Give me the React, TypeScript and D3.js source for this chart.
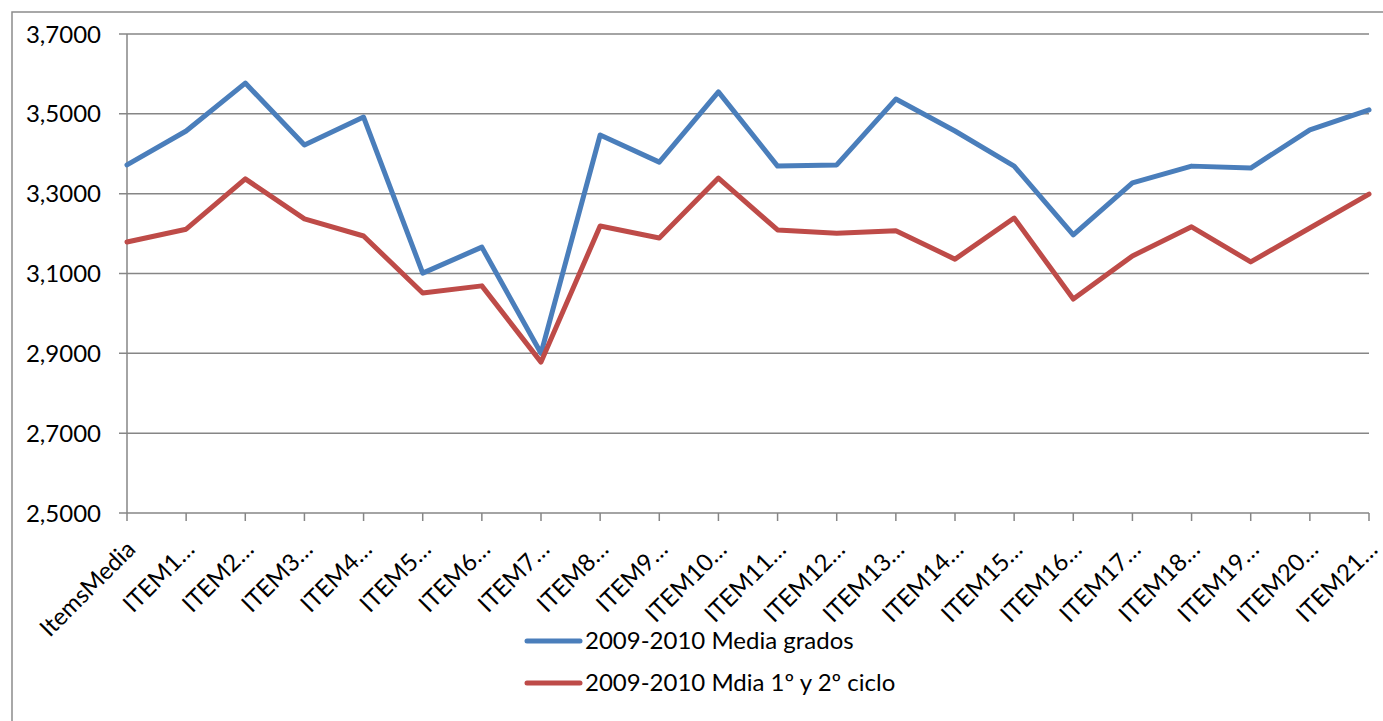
import React, { useEffect, useRef } from "react";
import * as d3 from "d3";

const categories = [
  "ItemsMedia", "ITEM1…", "ITEM2…", "ITEM3…", "ITEM4…", "ITEM5…", "ITEM6…", "ITEM7…",
  "ITEM8…", "ITEM9…", "ITEM10…", "ITEM11…", "ITEM12…", "ITEM13…", "ITEM14…", "ITEM15…",
  "ITEM16…", "ITEM17…", "ITEM18…", "ITEM19…", "ITEM20…", "ITEM21…",
];

const mediaGrados = [
  3.372, 3.457, 3.577, 3.422, 3.492, 3.101, 3.166, 2.9, 3.447, 3.379, 3.555,
  3.369, 3.372, 3.537, 3.457, 3.369, 3.197, 3.327, 3.369, 3.364, 3.46, 3.51,
];

const mediaCiclo = [
  3.179, 3.211, 3.337, 3.237, 3.194, 3.051, 3.069, 2.878, 3.219, 3.189, 3.339,
  3.209, 3.201, 3.207, 3.136, 3.239, 3.036, 3.144, 3.217, 3.129, 3.214, 3.299,
];

const yTicks = [2.5, 2.7, 2.9, 3.1, 3.3, 3.5, 3.7];

const series = [
  { name: "2009-2010 Media grados", values: mediaGrados, color: "#4a7ebb" },
  { name: "2009-2010 Mdia 1º y 2º ciclo", values: mediaCiclo, color: "#be4b48" },
];

const W = 1383;
const H = 721;
const font = "Lato, 'Noto Sans', sans-serif";

export default function App() {
  const ref = useRef<SVGSVGElement>(null);

  useEffect(() => {
    const svg = d3.select(ref.current);
    svg.selectAll("*").remove();

    const left = 127, right = 1369, top = 34, bottom = 513;

    const x = d3.scalePoint<string>().domain(categories).range([left, right]);
    const y = d3.scaleLinear().domain([2.5, 3.7]).range([bottom, top]);

    // chart frame
    svg.append("rect")
      .attr("x", 12).attr("y", 12)
      .attr("width", W + 20).attr("height", H + 20)
      .attr("fill", "white").attr("stroke", "#8c8c8c").attr("stroke-width", 1.5);

    // gridlines
    svg.append("g")
      .selectAll("line")
      .data(yTicks)
      .enter()
      .append("line")
        .attr("x1", left - 8).attr("x2", right)
        .attr("y1", d => y(d)).attr("y2", d => y(d))
        .attr("stroke", "#868686").attr("stroke-width", 1.5);

    // y axis line
    svg.append("line")
      .attr("x1", left).attr("x2", left)
      .attr("y1", top).attr("y2", bottom)
      .attr("stroke", "#868686").attr("stroke-width", 1.5);

    // y labels
    svg.append("g")
      .selectAll("text")
      .data(yTicks)
      .enter()
      .append("text")
        .attr("x", 101).attr("y", d => y(d))
        .attr("dy", "0.36em")
        .attr("text-anchor", "end")
        .attr("font-family", font).attr("font-size", 24)
        .attr("fill", "#000")
        .text(d => d.toFixed(4).replace(".", ","));

    // x ticks
    svg.append("g")
      .selectAll("line")
      .data(categories)
      .enter()
      .append("line")
        .attr("x1", d => x(d)!).attr("x2", d => x(d)!)
        .attr("y1", bottom).attr("y2", bottom + 8)
        .attr("stroke", "#868686").attr("stroke-width", 1.5);

    // x labels
    svg.append("g")
      .selectAll("text")
      .data(categories)
      .enter()
      .append("text")
        .attr("transform", d => `translate(${x(d)! - 2},${bottom + 26}) rotate(-45)`)
        .attr("text-anchor", "end")
        .attr("dy", "0.7em")
        .attr("font-family", font).attr("font-size", 24)
        .attr("fill", "#000")
        .text(d => d);

    const line = d3.line<number>()
      .x((d, i) => x(categories[i])!)
      .y(d => y(d));

    svg.append("g")
      .selectAll("path")
      .data(series)
      .enter()
      .append("path")
        .attr("fill", "none")
        .attr("stroke", d => d.color)
        .attr("stroke-width", 5)
        .attr("stroke-linejoin", "round")
        .attr("stroke-linecap", "round")
        .attr("d", d => line(d.values));

    // legend
    const legend = svg.append("g")
      .selectAll("g")
      .data(series)
      .enter()
      .append("g")
        .attr("transform", (d, i) => `translate(527,${641 + i * 42})`);
    legend.append("line")
      .attr("x1", 0).attr("x2", 53).attr("y1", 0).attr("y2", 0)
      .attr("stroke", d => d.color).attr("stroke-width", 5)
      .attr("stroke-linecap", "round");
    legend.append("text")
      .attr("x", 58).attr("dy", "0.33em")
      .attr("font-family", font).attr("font-size", 24)
      .attr("fill", "#000")
      .text(d => d.name);
  }, []);

  return (
    <svg
      width={W}
      height={H}
      ref={ref}
      style={{ display: "block", position: "absolute", left: 0, top: 0 }}
    />
  );
}
